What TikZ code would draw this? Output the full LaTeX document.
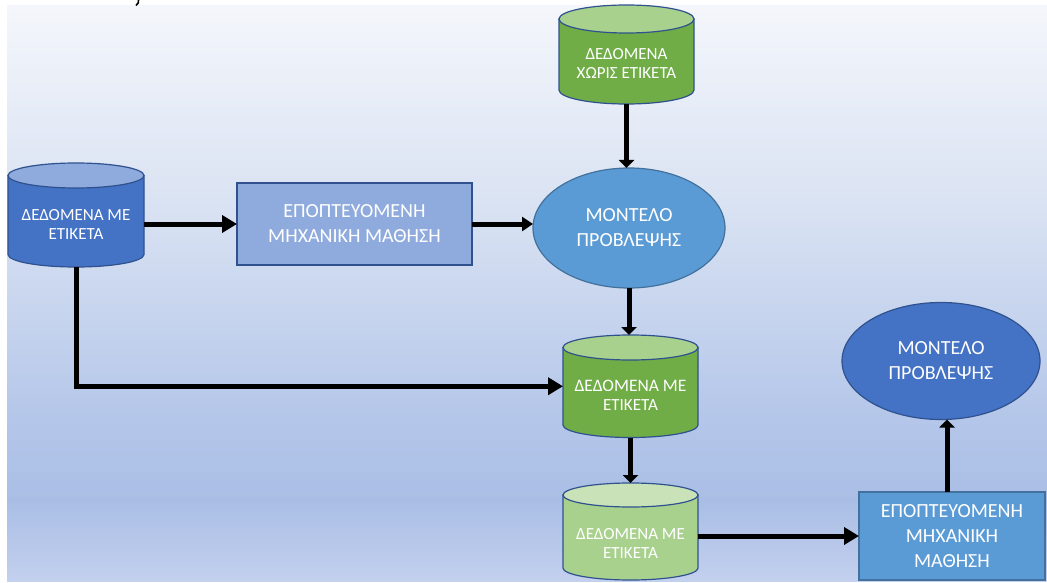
\documentclass[tikz,border=0pt]{standalone}
\usepackage{fontspec}
\setmainfont{Carlito}
\usetikzlibrary{shapes.geometric,arrows.meta,calc}

\definecolor{bgtop}{HTML}{F4F6FB}
\definecolor{bgupper}{HTML}{DAE3F3}
\definecolor{bgmid}{HTML}{B4C6E9}
\definecolor{bglow}{HTML}{AABEE5}
\definecolor{bgbottom}{HTML}{C3D0EE}
\definecolor{bodyblue}{HTML}{4472C4}
\definecolor{capblue}{HTML}{8FAADC}
\definecolor{lineblue}{HTML}{2F528F}
\definecolor{midblue}{HTML}{5B9BD5}
\definecolor{midline}{HTML}{41719C}
\definecolor{bodygreen}{HTML}{70AD47}
\definecolor{capgreen}{HTML}{A9D18E}
\definecolor{bodylight}{HTML}{A9D18E}
\definecolor{caplight}{HTML}{C9E2B8}

% vertical background gradient (stops between 25bp and 75bp span the path)
\pgfdeclareverticalshading{panelgrad}{100bp}{%
  color(0bp)=(bgbottom); color(25bp)=(bgbottom); color(32bp)=(bglow);
  color(39bp)=(bgmid); color(58bp)=(bgupper); color(75bp)=(bgtop); color(100bp)=(bgtop)}

\tikzset{
  cylbody/.store in=\cylbodycol,
  cylcap/.store in=\cylcapcol,
  bluecyl/.style={cylbody=bodyblue, cylcap=capblue},
  greencyl/.style={cylbody=bodygreen, cylcap=capgreen},
  lightcyl/.style={cylbody=bodylight, cylcap=caplight},
  outline/.style={draw=lineblue, line width=1.2pt},
  cylshape/.style={inner sep=0pt, outer sep=0pt},
  cyltext/.style={text=white, align=center, inner sep=0pt, font=\fontsize{17}{19}\selectfont},
  procbox/.style={rectangle, inner sep=0pt, outer sep=0pt, text=white, align=center,
    font=\fontsize{20}{25}\selectfont},
  modelshape/.style={ellipse, inner sep=0pt, outer sep=0pt, text=white, align=center,
    font=\fontsize{20}{25}\selectfont},
  conn/.style={line width=5pt, -{Triangle[length=15pt,width=17pt]}},
  connsmall/.style={line width=5pt, -{Triangle[length=11pt,width=14pt]}},
  connshort/.style={line width=5pt, -{Triangle[length=8pt,width=15pt]}},
}

% database cylinder: name, centre x, top-cap centre y, bottom centre y,
% x radius, y radius, colour style, text, text offset
\newcommand\dbcyl[9]{%
  \tikzset{#7}%
  \path[outline, fill=\cylbodycol]
    ({#2-#5},#3) -- ({#2-#5},#4)
    arc[start angle=180, end angle=360, x radius=#5pt, y radius=#6pt]
    -- ({#2+#5},#3) -- cycle;
  \path[outline, fill=\cylcapcol] (#2,#3) ellipse[x radius=#5pt, y radius=#6pt];
  \node[cylshape, minimum width={2*#5pt}, minimum height={(#4-#3+2*#6)*1pt}]
    (#1) at (#2,{(#3+#4)/2}) {};
  \node[cyltext] (#1-text) at (#2,{(#3+#6+#4)/2+#9}) {#8};
}

\begin{document}
\begin{tikzpicture}[x=1pt, y=-1pt]
\useasboundingbox (0,0) rectangle (1047,583);

% backdrop panel
\path[shading=panelgrad] (7,6) rectangle (1047,581);
\draw[line width=1.6pt] (138.5,0) .. controls (138.5,3) .. (136,5.5);

% stores
\dbcyl{L}{76}{175.5}{254.5}{68}{12.5}{bluecyl}{ΔΕΔΟΜΕΝΑ ΜΕ\\ΕΤΙΚΕΤΑ}{3.5}
\dbcyl{T}{626.5}{19}{90}{67.5}{14}{greencyl}{\fontsize{17}{18}\selectfont ΔΕΔΟΜΕΝΑ\\ΧΩΡΙΣ ΕΤΙΚΕΤΑ}{1.5}
\dbcyl{M}{630.5}{347.5}{425}{67.5}{12.5}{greencyl}{\fontsize{17.5}{22}\selectfont ΔΕΔΟΜΕΝΑ ΜΕ\\ΕΤΙΚΕΤΑ}{2.5}
\dbcyl{B}{630.5}{495}{568}{67.5}{12}{lightcyl}{\fontsize{17}{20}\selectfont ΔΕΔΟΜΕΝΑ ΜΕ\\ΕΤΙΚΕΤΑ}{6}

% learning steps
\node[procbox, draw=lineblue, line width=1.2pt, fill=capblue,
  minimum width=235pt, minimum height=82pt] (R1) at (354.5,224)
  {ΕΠΟΠΤΕΥΟΜΕΝΗ\\ΜΗΧΑΝΙΚΗ ΜΑΘΗΣΗ};
\node[procbox, draw=midline, line width=1.2pt, fill=midblue,
  minimum width=186pt, minimum height=88pt] (R2) at (952,536)
  {ΕΠΟΠΤΕΥΟΜΕΝΗ\\ΜΗΧΑΝΙΚΗ\\ΜΑΘΗΣΗ};

% prediction models
\node[modelshape, draw=midline, line width=1.2pt, fill=midblue,
  minimum width=192pt, minimum height=120pt] (E1) at (629,228)
  {ΜΟΝΤΕΛΟ\\ΠΡΟΒΛΕΨΗΣ};
\node[modelshape, draw=lineblue, line width=1.2pt, fill=bodyblue,
  minimum width=198pt, minimum height=117pt] (E2) at (941,361)
  {ΜΟΝΤΕΛΟ\\ΠΡΟΒΛΕΨΗΣ};

% connectors
\draw[conn] (L.east |- R1.west) -- (R1.west);
\draw[connsmall] (R1.east) -- (R1.east -| E1.west);
\draw[connshort] (T.south) -- (T.south |- E1.north);
\draw[connshort] (E1.south) -- (E1.south |- M.north);
\draw[conn] (L.south) -- (L.south |- M.west) -- (M.west);
\draw[connshort] (M.south) -- (B.north);
\draw[conn] (B.east |- R2.west) -- (R2.west);
\draw[connshort] ([xshift=-5pt]R2.north) -- ([xshift=-5pt]R2.north |- E2.south);
\end{tikzpicture}
\end{document}
